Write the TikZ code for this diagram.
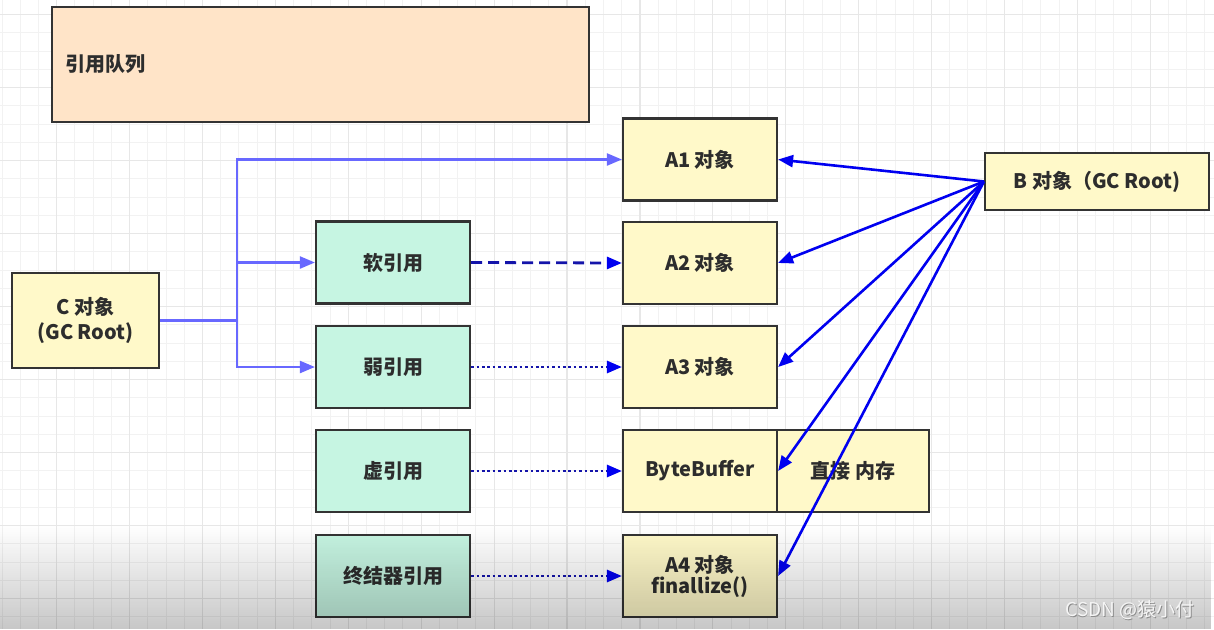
\documentclass[tikz,border=0pt]{standalone}
\usepackage{fontspec}
\newfontfamily\cjk{Noto Sans CJK SC}
\usetikzlibrary{arrows.meta,fadings}
\definecolor{peach}{RGB}{255,228,200}
\definecolor{mint}{RGB}{198,245,226}
\definecolor{lemon}{RGB}{255,249,201}
\definecolor{edge}{RGB}{51,51,51}
\definecolor{txt}{RGB}{45,45,45}
\definecolor{cblue}{RGB}{104,104,255}
\definecolor{dblue}{RGB}{20,20,170}
\definecolor{bblue}{RGB}{0,0,240}
\definecolor{gminor}{RGB}{242,242,242}
\definecolor{gmajor}{RGB}{231,231,231}
\tikzset{
  box/.style={draw=edge, line width=2.2pt, text=txt, font=\cjk\bfseries\fontsize{20}{24}\selectfont, align=center, inner sep=0pt},
  ybox/.style={box, fill=lemon, minimum width=154pt, minimum height=82pt},
  gbox/.style={box, fill=mint, minimum width=154pt, minimum height=82pt},
  carrow/.style={draw=cblue, line width=2.2pt, -{Triangle[length=15pt,width=12pt]}},
  refarrow/.style={draw=dblue, line width=2.8pt, -{Triangle[length=15pt,width=12pt,color=bblue]}},
  barrow/.style={draw=bblue, line width=2.6pt, -{Triangle[length=15pt,width=12pt]}},
}
\begin{document}
\begin{tikzpicture}[x=1pt,y=-1pt]
\useasboundingbox (0,0) rectangle (1214,629);
\fill[white] (0,0) rectangle (1214,629);
% grid
\foreach \i in {0,...,66} \draw[gminor, line width=1pt] (2+\i*18.225,0) -- (2+\i*18.225,629);
\foreach \i in {0,...,34} \draw[gminor, line width=1pt] (0,14.5+\i*18.25) -- (1214,14.5+\i*18.25);
\foreach \i in {0,...,16} \draw[gmajor, line width=1.2pt] (56.7+\i*72.9-72.9,0) -- (56.7+\i*72.9-72.9,629);
\foreach \i in {0,...,8} \draw[gmajor, line width=1.2pt] (0,14.5+\i*73) -- (1214,14.5+\i*73);

% boxes
\node[box, fill=peach, minimum width=537pt, minimum height=115pt, text width=511pt, inner xsep=13pt, align=left] (q) at (320.5,64.5) {\raisebox{-3pt}{引用队列}};
\node[ybox] (A1) at (700,159.5) {A1 对象};
\node[ybox] (A2) at (700,263) {A2 对象};
\node[ybox] (A3) at (700,367) {A3 对象};
\node[ybox] (BB) at (700,471) {ByteBuffer};
\node[ybox, minimum width=152pt] (DM) at (853,471) {直接 内存};
\node[ybox] (A4) at (700,576) {A4 对象\\[-3pt]finallize()};
\node[box, fill=lemon, minimum width=224pt, minimum height=57pt] (B) at (1097,181.5) {B 对象（GC Root)};
\node[box, fill=lemon, minimum width=147pt, minimum height=95pt] (C) at (85.5,320.5) {C 对象\\[1pt](GC Root)};
\node[gbox] (soft) at (393,262.5) {软引用};
\node[gbox] (weak) at (393,367) {弱引用};
\node[gbox] (phan) at (393,471) {虚引用};
\node[gbox] (fin) at (393,576) {终结器引用};

% C connectors
\coordinate (j) at (237,320.5);
\draw[draw=cblue, line width=2.2pt] (C.east) -- (j);
\draw[carrow] (j) |- (A1.west);
\draw[carrow] (j) |- (soft.west);
\draw[carrow] (j) |- (weak.west);

% reference connectors
\draw[refarrow, dash pattern=on 11pt off 6pt] (soft.east) -- (A2.west);
\draw[refarrow, dash pattern=on 2.6pt off 2.8pt] (weak.east) -- (A3.west);
\draw[refarrow, dash pattern=on 2.6pt off 2.8pt] (phan.east) -- (BB.west);
\draw[refarrow, dash pattern=on 2.6pt off 2.8pt] (fin.east) -- (A4.west);

% B connectors
\draw[barrow] (B.west) -- (A1.east);
\draw[barrow] (B.west) -- (A2.east);
\draw[barrow] (B.west) -- (A3.east);
\draw[barrow] (B.west) -- (BB.east);
\draw[barrow] (B.west) -- (A4.east);

% bottom shade
\fill[black, opacity=0.22, path fading=north] (0,525) rectangle (1214,629);

% watermark
\node[text=black!45, font=\cjk\fontsize{19}{22}\selectfont, anchor=east] (wms) at (1198.8,610.8) {CSDN @猿小付};
\node[text=white!96!black, font=\cjk\fontsize{19}{22}\selectfont, anchor=east] (wm) at (1198,610) {CSDN @猿小付};
\end{tikzpicture}
\end{document}
